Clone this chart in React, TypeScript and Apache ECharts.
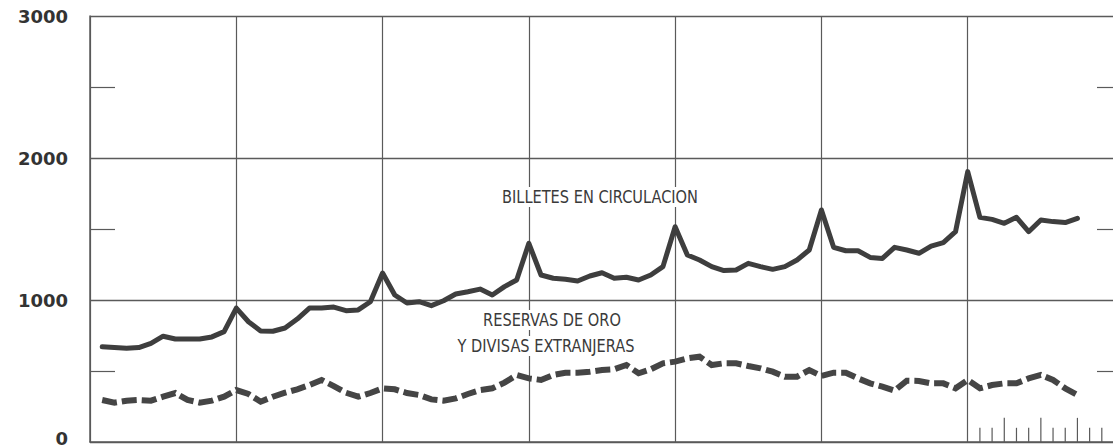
import React, { useEffect, useRef } from 'react';
import * as echarts from 'echarts';

// Month index (1 = first month of the first year; a year boundary every 12 months)
const months: number[] = Array.from({ length: 81 }, (_, i) => i + 1);

// Billetes en circulación (millions)
const billetes: number[] = [
  670, 665, 660, 665, 695, 745, 725, 725, 725, 740, 777, 943,
  847, 782, 780, 803, 866, 943, 943, 950, 925, 930, 988, 1190,
  1035, 979, 988, 960, 995, 1042, 1058, 1077, 1035, 1094, 1141, 1399,
  1176, 1153, 1146, 1134, 1169, 1192, 1153, 1160, 1141, 1176, 1235, 1516,
  1317, 1282, 1235, 1207, 1211, 1258, 1235, 1216, 1235, 1282, 1352, 1634,
  1371, 1347, 1347, 1300, 1293, 1371, 1352, 1329, 1380, 1404, 1481, 1904,
  1582, 1568, 1540, 1582, 1481, 1563, 1552, 1545, 1575,
];

// Reservas de oro y divisas extranjeras (millions)
const reservas: number[] = [
  296, 277, 291, 296, 291, 319, 345, 296, 277, 291, 319, 366,
  338, 284, 319, 347, 371, 401, 437, 394, 347, 319, 345, 378,
  371, 345, 331, 300, 291, 307, 338, 366, 378, 418, 472, 448,
  437, 472, 488, 488, 495, 507, 512, 542, 484, 512, 554, 566,
  589, 601, 542, 554, 554, 535, 519, 495, 460, 460, 507, 465,
  488, 488, 448, 413, 390, 362, 432, 430, 413, 413, 378, 437,
  378, 401, 413, 413, 448, 472, 437, 378, 331,
];

// Small month scale marks drawn at the bottom of the last year
const scaleMonths: number[] = [73, 74, 75, 76, 77, 78, 79, 80, 81, 82, 83];
const scaleHeights: number[] = [100, 100, 170, 100, 100, 170, 100, 100, 170, 100, 100];

const labelBilletes = 'BILLETES EN CIRCULACION';
const labelReservas1 = 'RESERVAS DE ORO';
const labelReservas2 = 'Y DIVISAS EXTRANJERAS';

const INK = '#3e3e3e';
const GRID = '#5a5a5a';
const LABEL_FONT = '"DejaVu Sans Condensed", "DejaVu Sans", sans-serif';

export default function App() {
  const ref = useRef<HTMLDivElement>(null);

  useEffect(() => {
    if (!ref.current) return;
    const chart = echarts.init(ref.current, undefined, { renderer: 'svg' });

    const billetesData = months.map((m, i) => [m, billetes[i]]);
    const reservasData = months.map((m, i) => [m, reservas[i]]);
    const scaleData = scaleMonths.map((m, i) => [m, scaleHeights[i]]);

    const textStyleCommon = {
      fontFamily: LABEL_FONT,
      fontSize: 18,
      fill: '#3a3a3a',
      align: 'center',
      verticalAlign: 'middle',
      backgroundColor: '#ffffff',
      padding: [1, 3],
    };

    chart.setOption({
      animation: false,
      backgroundColor: '#ffffff',
      grid: {
        left: 90,
        top: 16,
        width: 1024,
        height: 426,
        containLabel: false,
        outerBoundsMode: 'none',
      },
      xAxis: {
        type: 'value',
        min: 0,
        max: 84,
        interval: 12,
        axisLine: { show: true, onZero: false, lineStyle: { color: GRID, width: 1.5 } },
        axisTick: { show: false },
        axisLabel: { show: false },
        splitLine: { show: true, lineStyle: { color: GRID, width: 1.2 } },
      },
      yAxis: [
        {
          type: 'value',
          min: 0,
          max: 3000,
          interval: 1000,
          position: 'left',
          axisLine: { show: true, lineStyle: { color: GRID, width: 1.5 } },
          axisTick: { show: false, inside: true },
          minorTick: { show: true, splitNumber: 2, length: 25, lineStyle: { color: GRID, width: 1.2 } },
          splitLine: { show: true, lineStyle: { color: GRID, width: 1.3 } },
          axisLabel: {
            margin: 22,
            color: '#333333',
            fontSize: 18,
            fontWeight: 'bold',
            fontFamily: 'DejaVu Sans',
            formatter: (v: number) => (v === 0 ? '{z|0}' : String(v)),
            rich: {
              z: {
                fontSize: 18,
                fontWeight: 'bold',
                fontFamily: 'DejaVu Sans',
                color: '#333333',
                padding: [0, 0, 8, 0],
              },
            },
          },
        },
        {
          type: 'value',
          min: 0,
          max: 3000,
          interval: 1000,
          position: 'right',
          axisLine: { show: false },
          axisTick: { show: false, inside: true },
          minorTick: { show: true, splitNumber: 2, length: 17, lineStyle: { color: GRID, width: 1.2 } },
          splitLine: { show: false },
          axisLabel: { show: false },
        },
      ],
      series: [
        {
          name: 'Billetes en circulación',
          type: 'line',
          data: billetesData,
          symbol: 'none',
          z: 5,
          lineStyle: { color: INK, width: 5, join: 'round', cap: 'round' },
        },
        {
          name: 'Reservas de oro y divisas extranjeras',
          type: 'line',
          data: reservasData,
          symbol: 'none',
          z: 5,
          lineStyle: { color: '#454545', width: 6, type: [15, 5], cap: 'butt', join: 'miter' },
        },
        {
          name: 'escala',
          type: 'custom',
          data: scaleData,
          z: 4,
          renderItem: (_params: any, api: any) => {
            const p0 = api.coord([api.value(0), 0]);
            const p1 = api.coord([api.value(0), api.value(1)]);
            return {
              type: 'line',
              shape: { x1: p0[0], y1: p0[1], x2: p1[0], y2: p1[1] },
              style: { stroke: GRID, lineWidth: 1.2 },
            };
          },
        },
      ],
      graphic: [
        { type: 'text', x: 600, y: 197, scaleX: 0.9, z: 100, style: { ...textStyleCommon, text: labelBilletes } },
        { type: 'text', x: 552, y: 320, scaleX: 0.9, z: 100, style: { ...textStyleCommon, text: labelReservas1 } },
        { type: 'text', x: 546, y: 346, scaleX: 0.9, z: 100, style: { ...textStyleCommon, text: labelReservas2 } },
      ],
    });

    return () => {
      chart.dispose();
    };
  }, []);

  return (
    <div
      ref={ref}
      style={{ position: 'fixed', left: 0, top: 0, width: 1113, height: 447, background: '#fff' }}
    />
  );
}
